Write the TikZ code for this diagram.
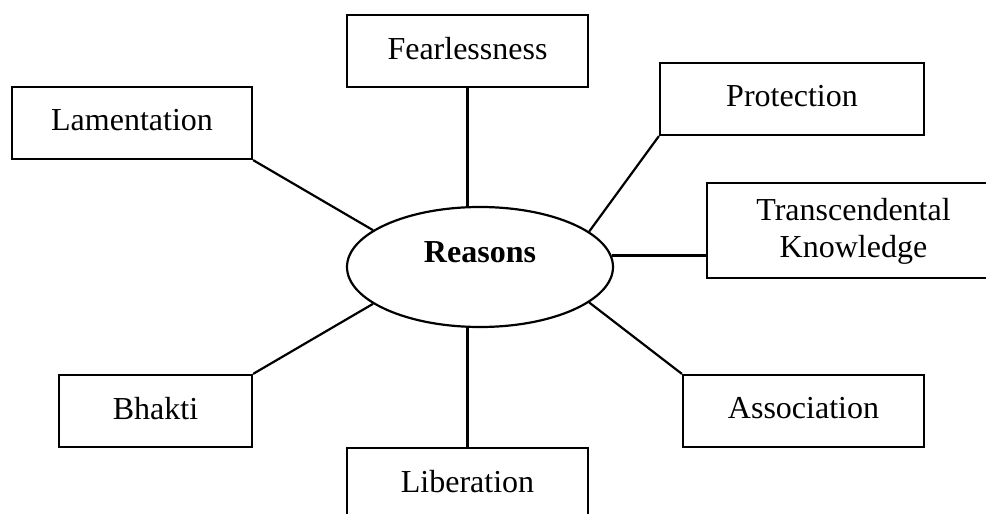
\documentclass[tikz,border=0pt]{standalone}
\usepackage{fontspec}
\setmainfont{Liberation Serif}
\usepackage{tikz}
\usetikzlibrary{shapes.geometric}
\tikzstyle{hub} =
[ellipse, minimum width = 133pt, minimum height = 60pt, inner sep = 0pt,
draw=black, line width = 1.1pt]
\tikzstyle{hubtext} =
[text centered, font = \fontsize{16}{18.4}\selectfont\bfseries]
\tikzstyle{reason} =
[rectangle, minimum width = 120.5pt, minimum height = 36pt, inner sep = 0pt,
text centered, text depth = 3pt, draw=black, line width = 1.1pt,
font = \fontsize{16}{18.4}\selectfont]
\tikzstyle{line} = [draw, line width = 1.1pt]

\begin{document}
\begin{tikzpicture}[x = 0.5pt, y = -0.5pt]
  \clip (0,0) rectangle (986,514);
  % centre node
  \node [hub] (reasons) at (480,267) {};
  \node [hubtext] (reasonstxt) at (480,252) {Reasons};
  % outer nodes
  \node [reason] (fear) at (467.5,51) {Fearlessness};
  \node [reason, minimum width = 120pt] (lament) at (132,123) {Lamentation};
  \node [reason, minimum width = 132pt] (protect) at (792,99) {Protection};
  \node [reason, minimum width = 146.5pt, minimum height = 47.5pt,
   align = center] (transc) at (853.5,230.5) {Transcendental\\ Knowledge};
  \node [reason] (assoc) at (803.5,411) {Association};
  \node [reason, minimum width = 96.5pt] (bhakti) at (155.5,411) {Bhakti};
  \node [reason] (liber) at (467.5,484) {Liberation};
  % edges
  \path [line] (fear.south) -- (fear.south |- reasons.north);
  \path [line] (lament.south east) -- (reasons.161);
  \path [line] (protect.south west) -- (reasons.18);
  \path [line] (reasons.5) -- (reasons.5 -| transc.west);
  \path [line] (assoc.north west) -- (reasons.-18);
  \path [line] (bhakti.north east) -- (reasons.-161);
  \path [line] (liber.north) -- (liber.north |- reasons.south);
\end{tikzpicture}
\end{document}
